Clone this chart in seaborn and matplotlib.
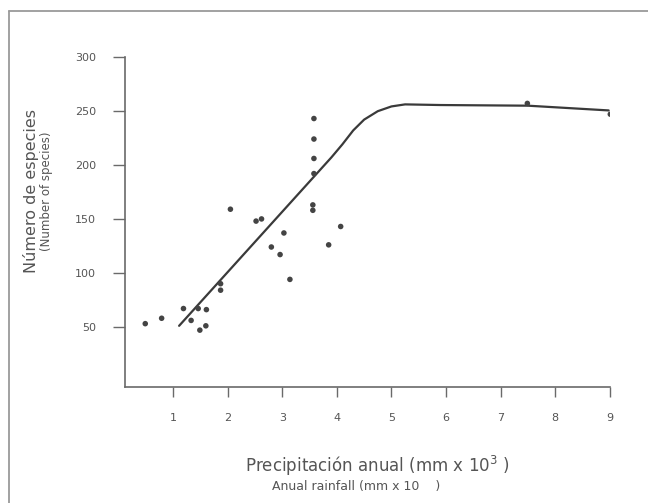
import matplotlib
matplotlib.use("Agg")
import matplotlib.pyplot as plt
import seaborn as sns
import pandas as pd
from matplotlib.lines import Line2D

# observed sites: annual rainfall (mm x 10^3) vs number of species
rain = [0.49, 0.79, 1.19, 1.33, 1.46, 1.61, 1.49, 1.60, 1.87, 1.87,
        2.05, 2.52, 2.62, 2.80, 3.03, 2.96, 3.14, 3.58, 3.58, 3.58,
        3.58, 3.56, 3.56, 3.85, 4.07, 7.49, 9.01]
species = [53, 58, 67, 56, 67, 66, 47, 51, 90, 84,
           159, 148, 150, 124, 137, 117, 94, 243, 224, 206,
           192, 163, 158, 126, 143, 257, 247]

# fitted curve
fit_x = [1.11, 3.9, 4.1, 4.3, 4.5, 4.75, 5.0, 5.25, 5.9, 7.5, 8.98]
fit_y = [51, 207, 219, 232, 242, 249.8, 254.2, 256.1, 255.5, 254.9, 250.5]

x_ticks = [1, 2, 3, 4, 5, 6, 7, 8, 9]
y_ticks = [50, 100, 150, 200, 250, 300]

sns.set_theme(style="white")
plt.rcParams["font.family"] = ["DejaVu Sans"]
plt.rcParams["mathtext.default"] = "regular"

pts = pd.DataFrame({"rain": rain, "species": species})
fit = pd.DataFrame({"rain": fit_x, "species": fit_y})

fig = plt.figure(figsize=(6.48, 5.03), dpi=100)
ax = fig.add_axes([0.193, 0.2312, 0.748, 0.6555])

sns.lineplot(data=fit, x="rain", y="species", ax=ax, color="#3a3a3a", lw=1.6, sort=False)
sns.scatterplot(data=pts, x="rain", y="species", ax=ax, color="#444444", s=16,
                edgecolor="none", zorder=3)

ax.set_xlim(0.12, 9.0)
ax.set_ylim(-5.4, 300)
ax.set_xticks(x_ticks)
ax.set_yticks(y_ticks)
ax.set_xlabel("")
ax.set_ylabel("")

for side in ["top", "right"]:
    ax.spines[side].set_visible(False)
for side in ["left", "bottom"]:
    ax.spines[side].set_color("#6a6a6a")
    ax.spines[side].set_linewidth(1.2)

ax.tick_params(axis="y", direction="out", length=9, width=1.0, color="#6a6a6a",
               pad=12, labelsize=8, labelcolor="#555555", left=True)
ax.tick_params(axis="x", direction="out", length=7, width=1.0, color="#6a6a6a",
               pad=12, labelsize=8, labelcolor="#555555", bottom=True)

txt = "#555555"
fig.text(0.583, 0.073, "Precipitación anual (mm x 10$^{3}$ )", ha="center", va="center",
         fontsize=12, color=txt)
fig.text(0.55, 0.032, "Anual rainfall (mm x 10    )", ha="center", va="center",
         fontsize=9, color=txt)
fig.text(0.048, 0.62, "Número de especies", ha="center", va="center", rotation=90,
         fontsize=11.5, color=txt)
fig.text(0.072, 0.62, "(Number of species)", ha="center", va="center", rotation=90,
         fontsize=8.5, color=txt)

# outer frame of the scanned figure
fig.add_artist(Line2D([9 / 648, 9 / 648], [0, 1 - 11 / 503], color="#9a9a9a", lw=1.3))
fig.add_artist(Line2D([9 / 648, 1], [1 - 11 / 503, 1 - 11 / 503], color="#9a9a9a", lw=1.3))

fig.savefig("out.png", dpi=100)
